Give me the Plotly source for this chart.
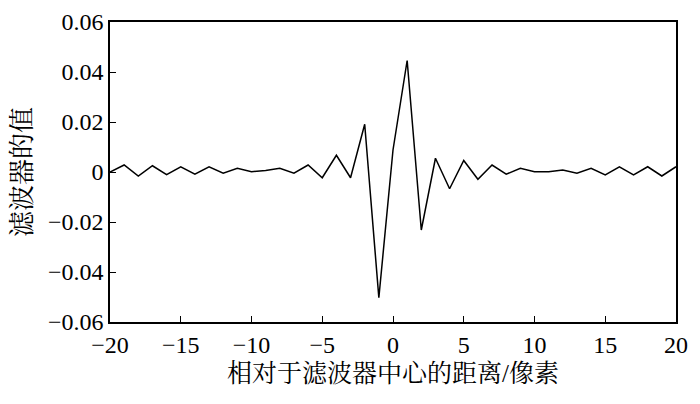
import plotly.graph_objects as go

x_pos = list(range(-20, 21))
filter_vals = [
    0.0000, 0.0028, -0.0016, 0.0025, -0.0011, 0.0021, -0.0009, 0.0021, -0.0005, 0.0015,
    0.0001, 0.0006, 0.0015, -0.0005, 0.0028, -0.0023, 0.0067, -0.0023, 0.0191, -0.0503,
    0.0088, 0.0446, -0.0232, 0.0055, -0.0067, 0.0046, -0.0029, 0.0028, -0.0009, 0.0015,
    0.0001, 0.0001, 0.0008, -0.0005, 0.0015, -0.0012, 0.0021, -0.0012, 0.0021, -0.0016,
    0.0021,
]
x_ticks = [-20, -15, -10, -5, 0, 5, 10, 15, 20]
y_ticks = [-0.06, -0.04, -0.02, 0, 0.02, 0.04, 0.06]
y_tick_text = ["\u22120.06", "\u22120.04", "\u22120.02", "0", "0.02", "0.04", "0.06"]
x_title = "相对于滤波器中心的距离/像素"
y_title = "滤波器的值"

FONT = "Liberation Serif, Times New Roman, Noto Serif CJK SC, Noto Sans CJK SC, serif"

fig = go.Figure()
fig.add_trace(go.Scatter(x=x_pos, y=filter_vals, mode="lines",
                         line=dict(color="black", width=1.5), showlegend=False))

fig.update_layout(
    width=692, height=396,
    margin=dict(l=102, r=24, t=14, b=82, autoexpand=False),
    paper_bgcolor="white", plot_bgcolor="white",
    font=dict(family=FONT, size=24, color="black"),
)
fig.update_xaxes(
    range=[-20, 20], tickvals=x_ticks, ticks="inside", ticklen=6, tickwidth=1.2,
    tickcolor="black", showline=True, linecolor="black", linewidth=1.5, mirror=True,
    showgrid=False, zeroline=False, automargin=False,
    tickfont=dict(family=FONT, size=24),
    title=dict(text=x_title, font=dict(size=25, family=FONT), standoff=8),
)
fig.update_yaxes(
    range=[-0.06, 0.06], tickvals=y_ticks, ticktext=y_tick_text, ticks="inside",
    ticklen=6, tickwidth=1.2, tickcolor="black", showline=True, linecolor="black",
    linewidth=1.5, mirror=True, showgrid=False, zeroline=False, automargin=False,
    tickfont=dict(family=FONT, size=24),
    title=dict(text=y_title, font=dict(size=26, family=FONT), standoff=10),
)
fig.write_html("out.html")
